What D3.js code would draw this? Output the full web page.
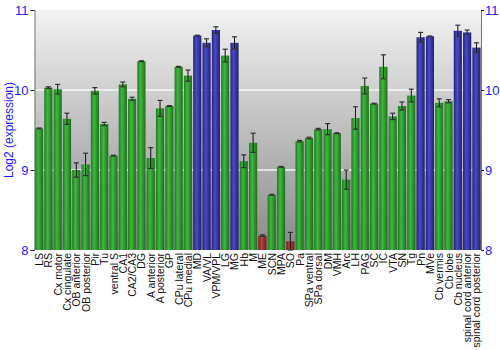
<!DOCTYPE html>
<html><head><meta charset="utf-8">
<script src="https://cdn.jsdelivr.net/npm/d3@7"></script>
<style>body{margin:0;background:#fff}svg{display:block}</style>
</head><body>
<script>
const categories = ["LS","RS","Cx motor","Cx cingulate","OB anterior","OB posterior","Pir","Tu","ventral S","CA1","CA2/CA3","DG","A anterior","A posterior","GP","CPu lateral","CPu medial","MD","VA/VL","VPM/VPL","LG","MG","Hb","M","ME","SCN","MPA","SO","Pa","SPa ventral","SPa dorsal","DM","VMH","Arc","LH","PAG","SC","IC","VTA","SN","Tg","Pn","MVe","Cb vermis","Cb lobe","Cb nucleus","spinal cord anterior","spinal cord posterior"];
const values = [9.52,10.03,10.01,9.64,9.00,9.07,9.99,9.575,9.18,10.07,9.89,10.36,9.15,9.77,9.80,10.29,10.18,10.68,10.59,10.75,10.43,10.59,9.11,9.34,8.18,8.69,9.04,8.11,9.36,9.40,9.51,9.51,9.46,8.88,9.65,10.05,9.83,10.29,9.67,9.80,9.93,10.66,10.67,9.84,9.86,10.74,10.72,10.53];
const errors = [0.005,0.01,0.06,0.07,0.09,0.14,0.04,0.02,0.005,0.03,0.02,0.005,0.13,0.1,0.005,0.005,0.07,0.005,0.05,0.04,0.08,0.075,0.08,0.12,0.01,0.005,0.005,0.11,0.01,0.01,0.01,0.07,0.005,0.12,0.14,0.1,0.005,0.15,0.04,0.05,0.08,0.06,0.005,0.05,0.02,0.07,0.03,0.06];
const groups = ["g","g","g","g","g","g","g","g","g","g","g","g","g","g","g","g","g","b","b","b","g","b","g","g","r","g","g","r","g","g","g","g","g","g","g","g","g","g","g","g","g","b","b","g","g","b","b","b"];
const yTicks = [8,9,10,11];

const W=500,H=350, L=34.5, R=481, T=10, B=250;
const svg=d3.select("body").append("svg").attr("width",W).attr("height",H);
const defs=svg.append("defs");
const bg=defs.append("linearGradient").attr("id","bg").attr("x1",0).attr("y1",0).attr("x2",0).attr("y2",1);
bg.append("stop").attr("offset","0%").attr("stop-color","#f2f2f2");
bg.append("stop").attr("offset","100%").attr("stop-color","#8a8a8a");
const cols={g:["#1f7a1f","#3fb83f","#1d6e1d"],b:["#23237a","#4a4ac8","#20206e"],r:["#7a1f1f","#c04040","#6e1d1d"]};
Object.entries(cols).forEach(([k,c])=>{
  const g=defs.append("linearGradient").attr("id","bar"+k).attr("x1",0).attr("y1",0).attr("x2",1).attr("y2",0);
  g.append("stop").attr("offset","0%").attr("stop-color",c[0]);
  g.append("stop").attr("offset","40%").attr("stop-color",c[1]);
  g.append("stop").attr("offset","100%").attr("stop-color",c[2]);
});

const x=d3.scaleBand().domain(categories).range([L,R]).paddingInner(0.12).paddingOuter(0.05);
const y=d3.scaleLinear().domain([8,11]).range([B,T]);

svg.append("rect").attr("x",L).attr("y",T).attr("width",R-L).attr("height",B-T).attr("fill","url(#bg)");
svg.append("g").selectAll("line").data([9,10]).join("line")
  .attr("x1",L).attr("x2",R).attr("y1",d=>y(d)).attr("y2",d=>y(d))
  .attr("stroke","#f4f4f4").attr("stroke-width",1.5);

svg.append("g").selectAll("rect").data(categories).join("rect")
  .attr("x",d=>x(d)).attr("width",x.bandwidth())
  .attr("y",(d,i)=>y(values[i])).attr("height",(d,i)=>B-y(values[i]))
  .attr("fill",(d,i)=>"url(#bar"+groups[i]+")");

const eb=svg.append("g");
categories.forEach((c,i)=>{
  const cx=x(c)+x.bandwidth()/2, y1=y(values[i]+errors[i]), y2=y(values[i]-errors[i]);
  eb.append("line").attr("x1",cx).attr("x2",cx).attr("y1",y1).attr("y2",y2).attr("stroke","#111").attr("stroke-width",1);
  [y1,y2].forEach(v=>eb.append("line").attr("x1",cx-2.5).attr("x2",cx+2.5).attr("y1",v).attr("y2",v).attr("stroke","#333").attr("stroke-width",1.2));
});

const la=svg.append("g").attr("transform",`translate(${L},0)`).call(d3.axisLeft(y).tickValues(yTicks).tickFormat(d3.format("d")).tickSize(4).tickPadding(2));
const ra=svg.append("g").attr("transform",`translate(${R},0)`).call(d3.axisRight(y).tickValues(yTicks).tickFormat(d3.format("d")).tickSize(3).tickPadding(1));
[la,ra].forEach(a=>{
  a.select(".domain").attr("stroke","#777");
  a.selectAll(".tick line").attr("stroke","#222");
  a.selectAll(".tick text").attr("fill","#1a1aff").attr("font-family","Liberation Sans, Arial, sans-serif").attr("font-size",13);
});

svg.append("g").selectAll("text").data(categories).join("text")
  .attr("transform",d=>`translate(${x(d)+x.bandwidth()/2+4},${B+3}) rotate(-90)`)
  .attr("text-anchor","end").attr("font-family","Liberation Sans, Arial, sans-serif").attr("font-size",10.5).attr("fill","#111")
  .text(d=>d);

svg.append("text").attr("transform",`translate(13,${(T+B)/2}) rotate(-90)`).attr("text-anchor","middle")
  .attr("font-family","Liberation Sans, Arial, sans-serif").attr("font-size",12).attr("fill","#1a1aff").text("Log2 (expression)");
</script>
</body></html>
